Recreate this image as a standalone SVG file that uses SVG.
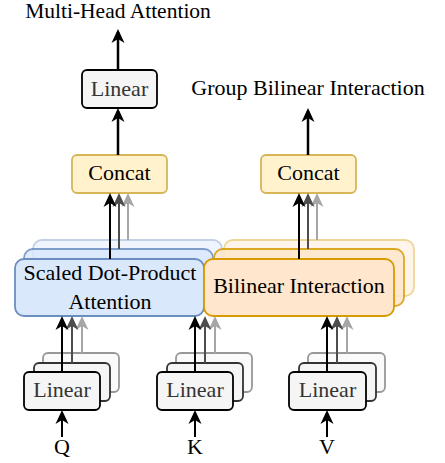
<svg xmlns="http://www.w3.org/2000/svg" width="445" height="463" viewBox="0 0 445 463">
  <style>
    text { font-family: "Liberation Serif", "Times New Roman", serif; font-size: 22px; text-anchor: middle; fill: #000; }
    .lin rect { fill: #f5f5f5; stroke: #000; stroke-width: 1.8; }
    .lin text { fill: #333; }
    .concat rect { fill: #fff2cc; stroke: #d6b656; stroke-width: 1.8; }
    .blue rect { fill: #dae8fc; stroke: #6c8ebf; stroke-width: 1.8; }
    .orange rect { fill: #ffe6cc; stroke: #d79b00; stroke-width: 1.8; }
    .back3 { opacity: 0.4; }
    .back2 { opacity: 0.85; }
    .c0 { stroke: #000; stroke-width: 2; fill: none; marker-end: url(#h0); }
    .c1 { stroke: #4d4d4d; stroke-width: 2; fill: none; marker-end: url(#h1); }
    .c2 { stroke: #a6a6a6; stroke-width: 2; fill: none; marker-end: url(#h2); }
    .big { stroke-width: 2.5; }
  </style>
  <defs>
    <marker id="h0" viewBox="0 0 14 14" refX="11" refY="7" markerWidth="14" markerHeight="14" markerUnits="userSpaceOnUse" orient="auto">
      <path d="M0,0.5 L14,7 L0,13.5 L4,7 z" fill="#000"/>
    </marker>
    <marker id="h1" viewBox="0 0 14 14" refX="11" refY="7" markerWidth="14" markerHeight="14" markerUnits="userSpaceOnUse" orient="auto">
      <path d="M0,0.5 L14,7 L0,13.5 L4,7 z" fill="#4d4d4d"/>
    </marker>
    <marker id="h2" viewBox="0 0 14 14" refX="11" refY="7" markerWidth="14" markerHeight="14" markerUnits="userSpaceOnUse" orient="auto">
      <path d="M0,0.5 L14,7 L0,13.5 L4,7 z" fill="#a6a6a6"/>
    </marker>
  </defs>

  <g id="title-mha"><text x="118" y="18" style="font-size:21.5px">Multi-Head Attention</text></g>
  <g id="title-gbi"><text x="308" y="95">Group Bilinear Interaction</text></g>

  <g id="linear-top" class="lin">
    <rect x="82" y="70" width="75" height="38" rx="5"/>
    <text x="119.5" y="96">Linear</text>
  </g>

  <g id="concat-1" class="concat">
    <rect x="72" y="155" width="95" height="38" rx="5"/>
    <text x="119.5" y="180">Concat</text>
  </g>
  <g id="concat-2" class="concat">
    <rect x="261" y="155" width="95" height="38" rx="5"/>
    <text x="308.5" y="180">Concat</text>
  </g>

  <g id="sdpa" class="blue">
    <rect class="back3" x="33" y="240" width="189" height="57" rx="9"/>
    <rect class="back2" x="24" y="249" width="189" height="57" rx="9"/>
    <rect x="15" y="259" width="189" height="57" rx="9"/>
    <text x="110" y="280">Scaled Dot-Product</text>
    <text x="110" y="309">Attention</text>
  </g>

  <g id="bilinear" class="orange">
    <rect class="back3" x="224" y="240" width="190" height="56" rx="9"/>
    <rect class="back2" x="214" y="249" width="190" height="57" rx="9"/>
    <rect x="204" y="259" width="190" height="57" rx="9"/>
    <text x="299" y="293">Bilinear Interaction</text>
  </g>

  <g id="linear-q" class="lin">
    <rect class="back3" x="43" y="353" width="76" height="39" rx="5"/>
    <rect x="34" y="363" width="76" height="38" rx="5" style="stroke:#333"/>
    <rect x="24" y="372" width="76" height="38" rx="5"/>
    <text x="62" y="397">Linear</text>
  </g>
  <g id="linear-k" class="lin">
    <rect class="back3" x="176" y="353" width="76" height="39" rx="5"/>
    <rect x="167" y="363" width="76" height="38" rx="5" style="stroke:#333"/>
    <rect x="157" y="372" width="76" height="38" rx="5"/>
    <text x="195" y="397">Linear</text>
  </g>
  <g id="linear-v" class="lin">
    <rect class="back3" x="308" y="353" width="77" height="39" rx="5"/>
    <rect x="299" y="363" width="77" height="38" rx="5" style="stroke:#333"/>
    <rect x="289" y="372" width="77" height="38" rx="5"/>
    <text x="327.5" y="397">Linear</text>
  </g>

  <g id="label-q"><text x="62" y="454">Q</text></g>
  <g id="label-k"><text x="195" y="454">K</text></g>
  <g id="label-v"><text x="327" y="454">V</text></g>

  <g id="connectors">
    <line class="c0 big" x1="118" y1="70" x2="118" y2="32"/>
    <line class="c0 big" x1="118" y1="155" x2="118" y2="111"/>
    <line class="c0 big" x1="308" y1="155" x2="308" y2="111"/>

    <line class="c2" x1="128" y1="240" x2="128" y2="196"/>
    <line class="c1" x1="119" y1="249" x2="119" y2="196"/>
    <line class="c0" x1="110" y1="259" x2="110" y2="196"/>

    <line class="c2" x1="317" y1="240" x2="317" y2="196"/>
    <line class="c1" x1="308" y1="249" x2="308" y2="196"/>
    <line class="c0" x1="299" y1="259" x2="299" y2="196"/>

    <line class="c2" x1="82" y1="353" x2="82" y2="319"/>
    <line class="c1" x1="72" y1="363" x2="72" y2="319"/>
    <line class="c0" x1="62" y1="372" x2="62" y2="319"/>

    <line class="c2" x1="215" y1="353" x2="215" y2="319"/>
    <line class="c1" x1="205" y1="363" x2="205" y2="319"/>
    <line class="c0" x1="195" y1="372" x2="195" y2="319"/>

    <line class="c2" x1="347" y1="353" x2="347" y2="319"/>
    <line class="c1" x1="337" y1="363" x2="337" y2="319"/>
    <line class="c0" x1="327" y1="372" x2="327" y2="319"/>

    <line class="c0" x1="62" y1="437" x2="62" y2="413"/>
    <line class="c0" x1="195" y1="437" x2="195" y2="413"/>
    <line class="c0" x1="327" y1="437" x2="327" y2="413"/>
  </g>
</svg>
